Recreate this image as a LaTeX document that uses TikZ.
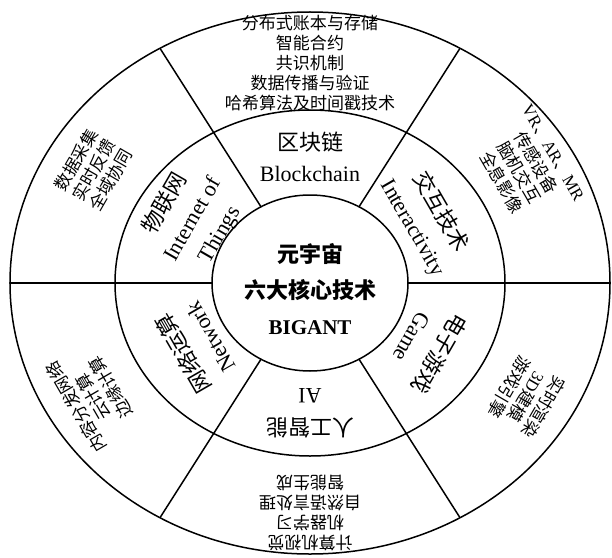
\documentclass[tikz,border=0pt]{standalone}
\usepackage{fontspec}
\setmainfont{Liberation Serif}
\newfontfamily\cjk{Noto Sans CJK SC}
\begin{document}
\begin{tikzpicture}
        [
            x=1pt, y=1pt,
            ring/.style={line width=1.5pt},
            core/.style={align=center, font=\cjk\bfseries\fontsize{22}{36}\selectfont},
            tech/.style={align=center, font=\fontsize{22}{31}\selectfont},
            detail/.style={align=center, font=\cjk\fontsize{17}{20}\selectfont},
        ]
            \useasboundingbox (-310,-274) rectangle (302,283);

            % rings
            \draw[ring] (0,0) ellipse [x radius=300pt, y radius=271pt];
            \draw[ring] (0,0) ellipse [x radius=195pt, y radius=173pt];
            \draw[ring] (0,0) ellipse [x radius=98pt, y radius=88pt];

            % sector borders
            \coordinate (I1) at (0:98 and 88);    \coordinate (O1) at (0:300 and 271);
            \coordinate (I2) at (60:98 and 88);   \coordinate (O2) at (60:300 and 271);
            \coordinate (I3) at (120:98 and 88);  \coordinate (O3) at (120:300 and 271);
            \coordinate (I4) at (180:98 and 88);  \coordinate (O4) at (180:300 and 271);
            \coordinate (I5) at (240:98 and 88);  \coordinate (O5) at (240:300 and 271);
            \coordinate (I6) at (300:98 and 88);  \coordinate (O6) at (300:300 and 271);
            \draw[ring] (I1) -- (O1);
            \draw[ring] (I2) -- (O2);
            \draw[ring] (I3) -- (O3);
            \draw[ring] (I4) -- (O4);
            \draw[ring] (I5) -- (O5);
            \draw[ring] (I6) -- (O6);

            \node[core] (hub) at (0,-6) {元宇宙\\六大核心技术\\{\rmfamily\fontsize{21}{36}\selectfont BIGANT}};

            \node[tech] (BC) at (90:135 and 126) {{\cjk 区块链}\\Blockchain};
            \node[tech, rotate=-60] (IA) at (30:135 and 126) {{\cjk 交互技术}\\Interactivity};
            \node[tech, rotate=-120] (GM) at (-30:135 and 126) {{\cjk 电子游戏}\\Game};
            \node[tech, rotate=180] (AI) at (-90:135 and 130) {{\cjk 人工智能}\\AI};
            \node[tech, rotate=120] (NW) at (210:132 and 126) {{\cjk 网络运算}\\Network};
            \node[tech, rotate=60] (IT) at (150:136 and 128) {{\cjk 物联网}\\Internet of\\Things};

            \node[detail] (BCd) at (90:250 and 220) {分布式账本与存储\\智能合约\\共识机制\\数据传播与验证\\哈希算法及时间戳技术};
            \node[detail, rotate=-60] (IAd) at (30:250 and 230) {{\rmfamily VR}、{\rmfamily AR}、{\rmfamily MR}\\传感设备\\脑机交互\\全息影像};
            \node[detail, rotate=-120] (GMd) at (-30:250 and 228) {实时渲染\\{\rmfamily 3D}建模\\游戏引擎};
            \node[detail, rotate=180] (AId) at (-90:250 and 230) {计算机视觉\\机器学习\\自然语言处理\\智能生成};
            \node[detail, rotate=120] (NWd) at (210:250 and 228) {内容分发网络\\云计算\\边缘计算};
            \node[detail, rotate=60] (ITd) at (150:250 and 226) {数据采集\\实时反馈\\全域协同};
        \end{tikzpicture}
\end{document}
